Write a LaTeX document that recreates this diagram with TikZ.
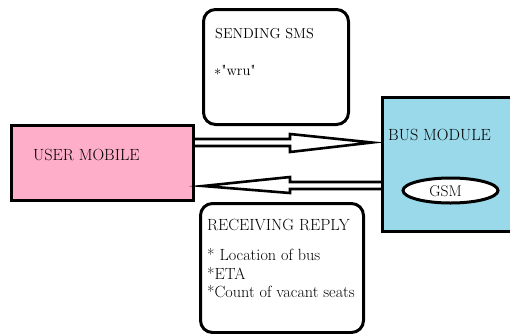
\documentclass[tikz,border=0pt]{standalone}
\usetikzlibrary{shapes.geometric}
\definecolor{rosefill}{HTML}{FFAEC9}
\definecolor{bluefill}{HTML}{99D9EA}
\tikzset{
  boxline/.style={draw=black, line width=3pt},
  roundbox/.style={draw=black, line width=3pt, rounded corners=12pt, fill=white},
  lbl/.style={anchor=base west, inner sep=0pt, font=\fontsize{16.2}{19}\selectfont},
  hollowarrow/.style={draw=black, line width=2.6pt, miter limit=30},
}
\begin{document}
\begin{tikzpicture}[x=1pt,y=-1pt]
\useasboundingbox (0,0) rectangle (510,333);
% boxes
\node[boxline, fill=rosefill, minimum width=182pt, minimum height=75pt, inner sep=0pt, outer sep=0pt, anchor=north west] (um) at (11,125) {};
\node[boxline, fill=bluefill, minimum width=140pt, minimum height=134pt, inner sep=0pt, outer sep=0pt, anchor=north west] (bus) at (382,97) {};
\node[roundbox, minimum width=145pt, minimum height=115pt, inner sep=0pt, anchor=north west] (sms) at (202,8) {};
\node[roundbox, minimum width=163pt, minimum height=129pt, inner sep=0pt, anchor=north west] (rep) at (199,202) {};
\node[ellipse, draw=black, line width=3pt, fill=white, minimum width=95pt, minimum height=25pt, inner sep=0pt] (gsm) at (450.5,190.5) {};
% texts
\node[lbl] (t1) at (33,160) {USER MOBILE};
\node[anchor=base, inner sep=0pt, font=\fontsize{15.5}{18}\selectfont] (t3) at (445.5,196) {GSM};
\node[lbl] (t2) at (388,140) {BUS MODULE};
\node[lbl, font=\fontsize{14.4}{17}\selectfont] (t4) at (215,38) {SENDING SMS};
\node[lbl, font=\fontsize{14.6}{17}\selectfont] (t5) at (214,75) {$\ast$\textquotedbl wru\textquotedbl};
\node[lbl] (t6) at (207,230) {RECEIVING REPLY};
\node[lbl] (t7) at (207,260) {* Location of bus};
\node[lbl] (t8) at (207,279) {*ETA};
\node[lbl] (t9) at (207,297) {*Count of vacant seats};
% arrows
\draw[hollowarrow] (um.east |- 0,139) -- (290,139) -- (290,134) -- ([xshift=-10pt]bus.west |- 0,142.5) -- (290,152) -- (290,146) -- (um.east |- 0,146);
\draw[hollowarrow] (bus.west |- 0,182) -- (290,182) -- (290,177) -- ([xshift=10pt]um.east |- 0,186) -- (290,193) -- (290,189) -- (bus.west |- 0,189);
\end{tikzpicture}
\end{document}
